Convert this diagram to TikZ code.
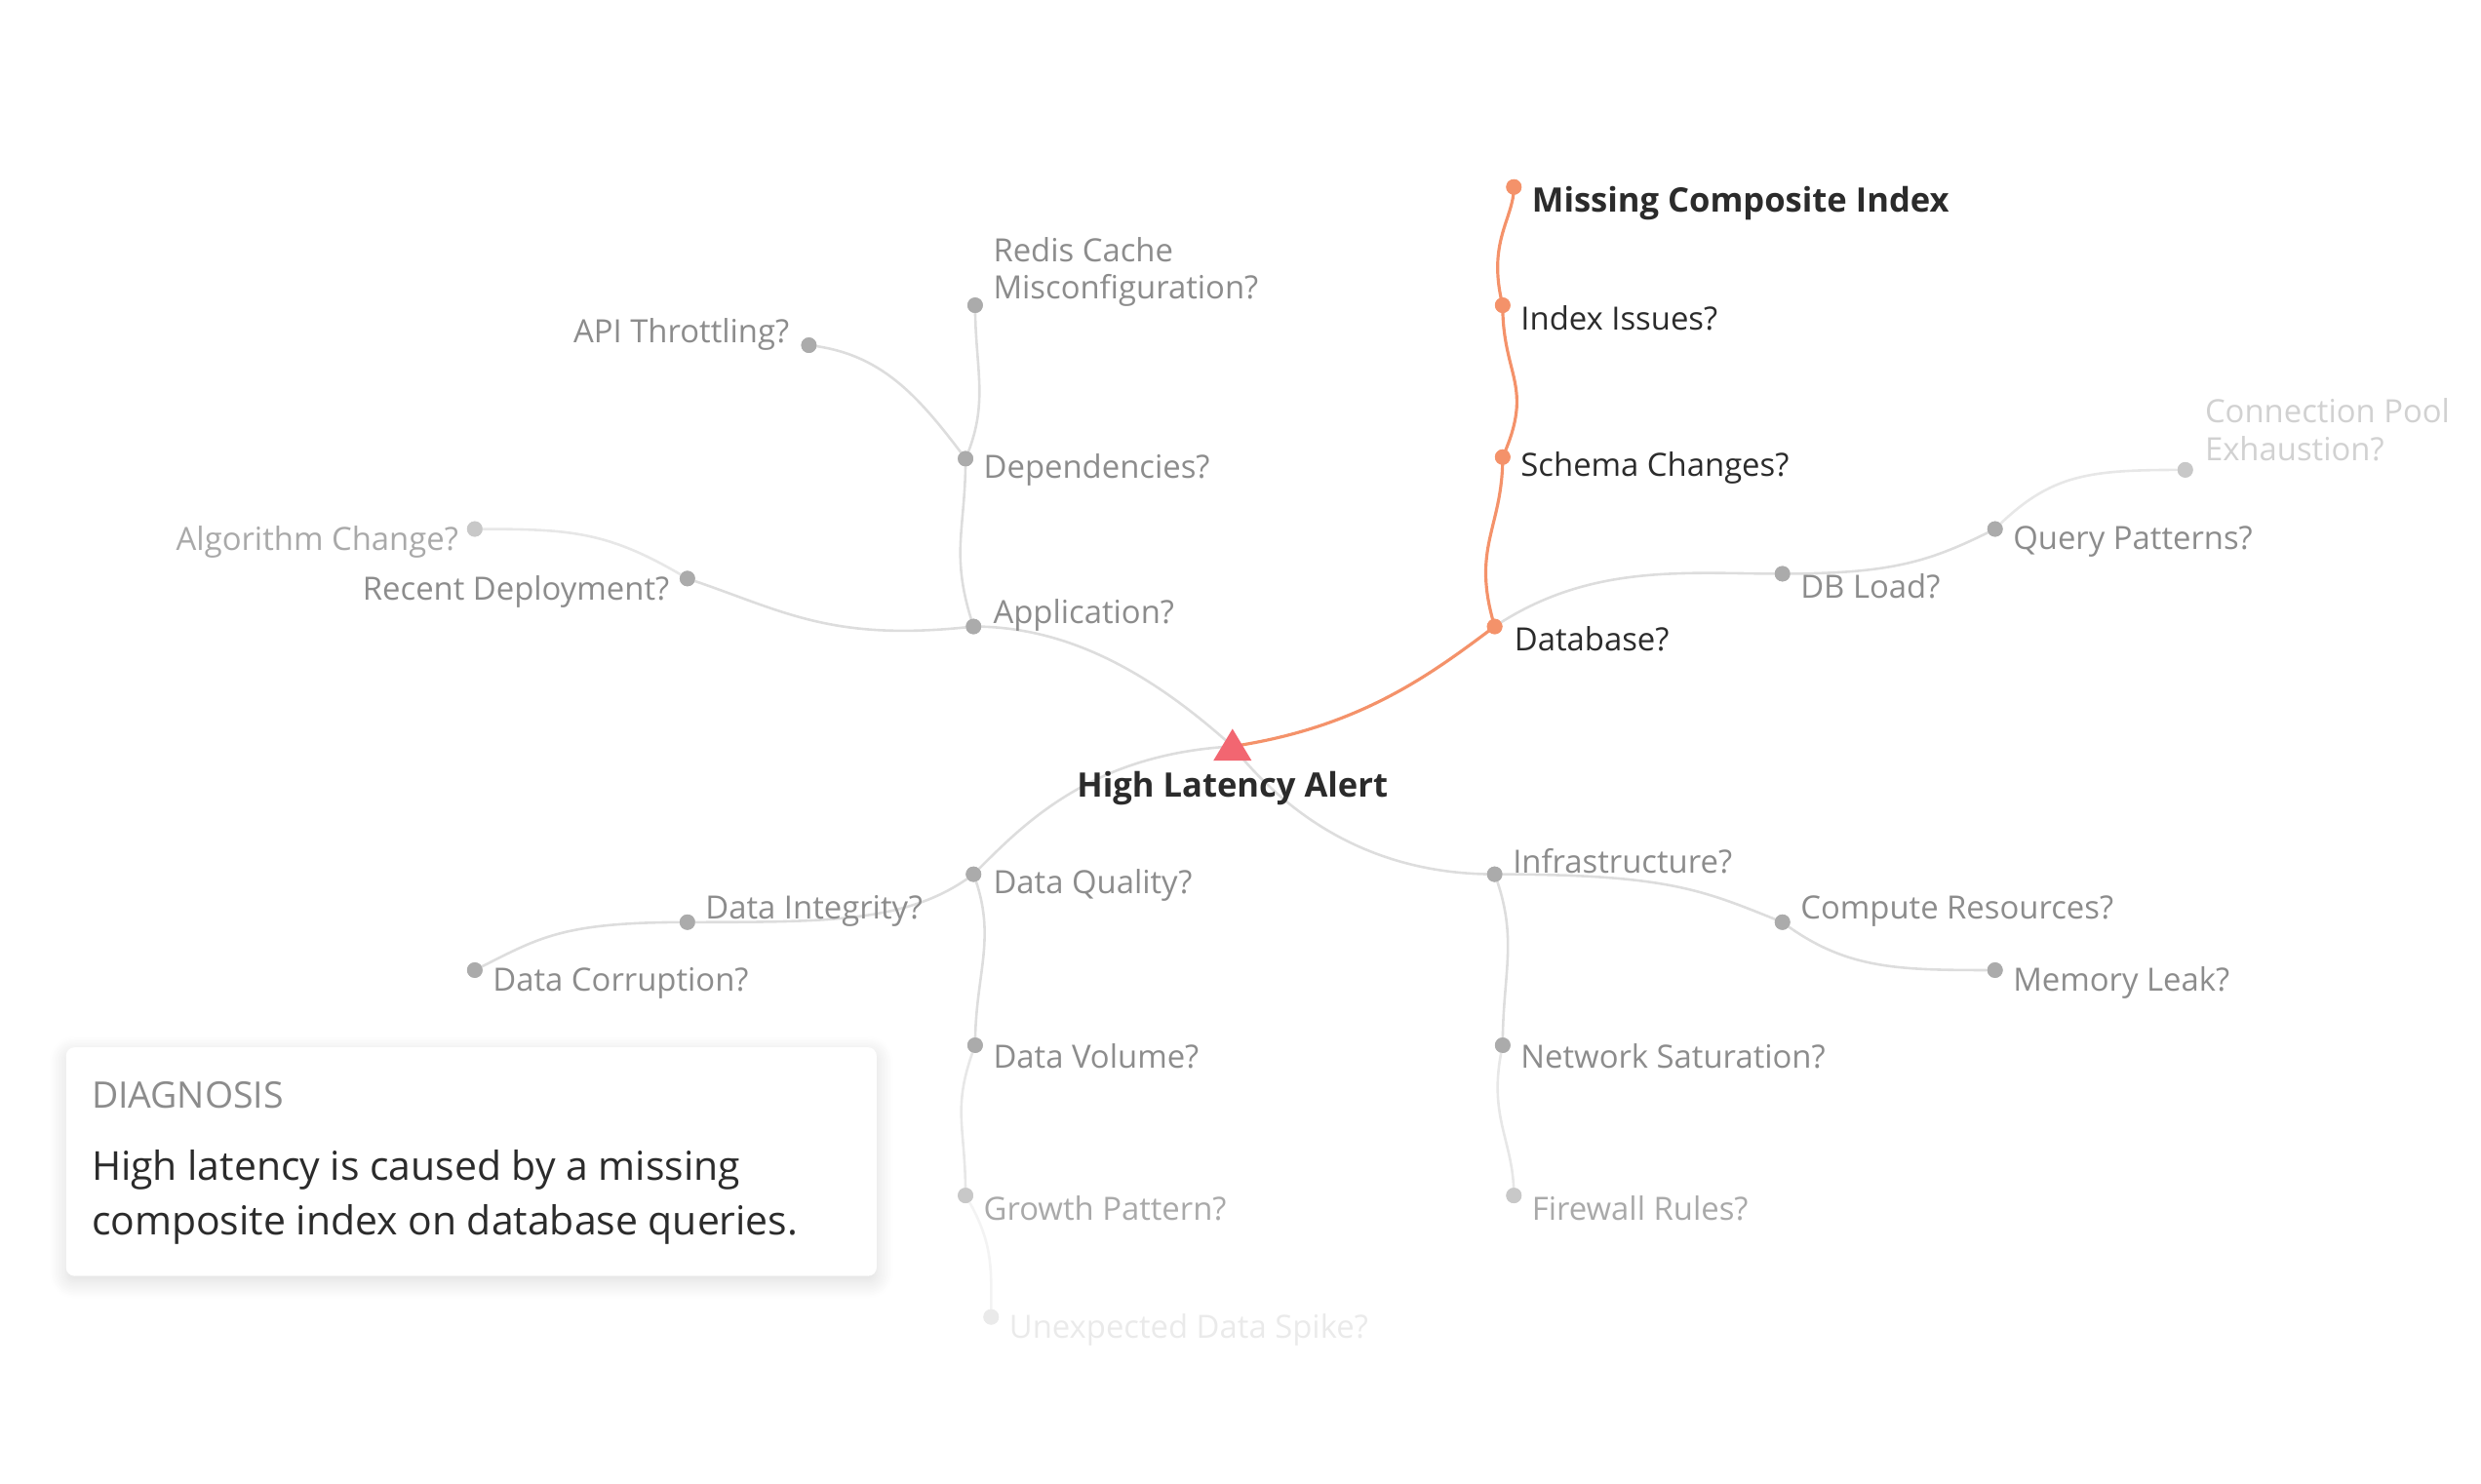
\documentclass[tikz,border=0pt]{standalone}
\usepackage{fontspec}
\setmainfont{Open Sans}
\usetikzlibrary{shadows.blur}
\definecolor{ln}{HTML}{DDDDDD}
\definecolor{dotc}{HTML}{ABABAB}
\definecolor{lab}{HTML}{8C8C8C}
\definecolor{orng}{HTML}{F4926A}
\definecolor{tri}{HTML}{F26671}
\definecolor{dark}{HTML}{2B2B2B}
\tikzset{
 dot/.style={circle,fill=dotc,inner sep=0pt,minimum size=5.5pt},
 odot/.style={dot,fill=orng},
 fdot/.style={dot,fill=dotc!65},
 ffdot/.style={dot,fill=dotc!25},
 lbl/.style={font=\fontsize{11.4}{13.5}\selectfont,text=lab,inner sep=0pt},
 flbl/.style={lbl,text=lab!75},
 fflbl/.style={lbl,text=lab!40},
 olbl/.style={lbl,text=dark},
 edge/.style={draw=ln,line width=0.9pt},
 fedge/.style={draw=ln!70,line width=0.9pt},
 oedge/.style={draw=orng,line width=1.1pt},
}
\begin{document}
\begin{tikzpicture}[x=0.02cm,y=-0.02cm]
\useasboundingbox (0,0) rectangle (1552,928);
\coordinate (root) at (771,467);
\node[dot] (app) at (609,392) {};
\node[dot] (dep) at (604,287) {};
\node[dot] (redis) at (610,191) {};
\node[dot] (api) at (506,216) {};
\node[dot] (rec) at (430,362) {};
\node[fdot] (alg) at (297,331) {};
\node[odot] (db) at (935,392) {};
\node[odot] (sch) at (940,286) {};
\node[odot] (idx) at (940,191) {};
\node[odot] (mci) at (947,117) {};
\node[dot] (dbl) at (1115,359) {};
\node[dot] (qp) at (1248,331) {};
\node[fdot] (cp) at (1367,294) {};
\node[dot] (inf) at (935,547) {};
\node[dot] (cmp) at (1115,577) {};
\node[dot] (mem) at (1248,607) {};
\node[dot] (net) at (940,654) {};
\node[fdot] (fw) at (947,748) {};
\node[dot] (dq) at (609,547) {};
\node[dot] (di) at (430,577) {};
\node[dot] (dc) at (297,607) {};
\node[dot] (dv) at (610,654) {};
\node[fdot] (gp) at (604,748) {};
\node[ffdot] (sp) at (620,824) {};
\draw[edge] (root) .. controls +(-50,-45) and +(60,0) .. (app.center);
\draw[oedge] (root) .. controls +(80,-12) and +(-40,30) .. (db.center);
\draw[edge] (root) .. controls +(40,50) and +(-70,0) .. (inf.center);
\draw[edge] (root) .. controls +(-90,5) and +(30,-30) .. (dq.center);
\draw[edge] (app.center) .. controls +(-15,-45) and +(0,45) .. (dep.center);
\draw[edge] (dep.center) .. controls +(15,-35) and +(0,40) .. (redis.center);
\draw[edge] (api.center) .. controls +(45,5) and +(-30,-40) .. (dep.center);
\draw[edge] (app.center) .. controls +(-90,10) and +(60,20) .. (rec.center);
\draw[fedge] (rec.center) .. controls +(-50,-30) and +(60,0) .. (alg.center);
\draw[edge] (db.center) .. controls +(60,-40) and +(-60,0) .. (dbl.center);
\draw[edge] (dbl.center) .. controls +(70,0) and +(-40,20) .. (qp.center);
\draw[fedge] (qp.center) .. controls +(35,-35) and +(-60,0) .. (cp.center);
\draw[oedge] (db.center) .. controls +(-15,-50) and +(0,45) .. (sch.center);
\draw[oedge] (sch.center) .. controls +(20,-45) and +(0,45) .. (idx.center);
\draw[oedge] (idx.center) .. controls +(-10,-40) and +(0,20) .. (mci.center);
\draw[edge] (inf.center) .. controls +(110,0) and +(-50,-20) .. (cmp.center);
\draw[edge] (cmp.center) .. controls +(40,30) and +(-60,0) .. (mem.center);
\draw[edge] (inf.center) .. controls +(15,40) and +(0,-45) .. (net.center);
\draw[fedge] (net.center) .. controls +(-10,45) and +(0,-35) .. (fw.center);
\draw[edge] (dq.center) .. controls +(-40,30) and +(90,0) .. (di.center);
\draw[edge] (di.center) .. controls +(-80,0) and +(40,-20) .. (dc.center);
\draw[edge] (dq.center) .. controls +(15,40) and +(0,-45) .. (dv.center);
\draw[fedge] (dv.center) .. controls +(-15,40) and +(0,-45) .. (gp.center);
\draw[draw=ln!35,line width=0.9pt] (gp.center) .. controls +(18,30) and +(0,-30) .. (sp.center);
\foreach \n/\s in {app/dot,dep/dot,redis/dot,api/dot,rec/dot,alg/fdot,db/odot,sch/odot,idx/odot,mci/odot,dbl/dot,qp/dot,cp/fdot,inf/dot,cmp/dot,mem/dot,net/dot,fw/fdot,dq/dot,di/dot,dc/dot,dv/dot,gp/fdot,sp/ffdot}
  \node[\s] at (\n) {};
\fill[tri] (771,456) -- (783,476) -- (759,476) -- cycle;
\node[olbl,font=\fontsize{12}{14}\selectfont\bfseries] (rootl) at (771,493) {High Latency Alert};
\node[lbl,anchor=west] (appl) at (621,385) {Application?};
\node[lbl,anchor=west] (depl) at (615,294) {Dependencies?};
\node[lbl,anchor=north west,align=left] (redisl) at (621,148) {Redis Cache\\Misconfiguration?};
\node[lbl,anchor=east] (apil) at (494,209) {API Throttling?};
\node[lbl,anchor=east] (recl) at (419,370) {Recent Deployment?};
\node[flbl,anchor=east] (algl) at (287,339) {Algorithm Change?};
\node[olbl,anchor=west] (dbll) at (947,400) {Database?};
\node[olbl,anchor=west] (schl) at (951,293) {Schema Changes?};
\node[olbl,anchor=west] (idxl) at (951,199) {Index Issues?};
\node[olbl,anchor=west,font=\fontsize{12}{14}\selectfont\bfseries] (mcil) at (958,127) {Missing Composite Index};
\node[lbl,anchor=west] (dblbl) at (1126,367) {DB Load?};
\node[lbl,anchor=west] (qpl) at (1259,339) {Query Patterns?};
\node[fflbl,anchor=north west,align=left] (cpl) at (1379,249) {Connection Pool\\Exhaustion?};
\node[lbl,anchor=west] (infl) at (946,539) {Infrastructure?};
\node[lbl,anchor=west] (cmpl) at (1126,570) {Compute Resources?};
\node[lbl,anchor=west] (meml) at (1259,615) {Memory Leak?};
\node[lbl,anchor=west] (netl) at (951,661) {Network Saturation?};
\node[flbl,anchor=west] (fwl) at (958,756) {Firewall Rules?};
\node[lbl,anchor=west] (dql) at (621,554) {Data Quality?};
\node[lbl,anchor=west] (dil) at (441,570) {Data Integrity?};
\node[lbl,anchor=west] (dcl) at (308,615) {Data Corruption?};
\node[lbl,anchor=west] (dvl) at (621,661) {Data Volume?};
\node[flbl,anchor=west] (gpl) at (615,756) {Growth Pattern?};
\node[lbl,text=lab!18,anchor=west] (spl) at (631,832) {Unexpected Data Spike?};
\node[fill=white,rounded corners=3pt,blur shadow={shadow blur steps=12,shadow blur radius=6pt,shadow xshift=0pt,shadow yshift=-2pt,shadow opacity=14},minimum width=507*0.02cm,minimum height=143*0.02cm,anchor=north west,inner sep=0pt] (box) at (41,655) {};
\node[anchor=west,inner sep=0pt,font=\fontsize{13}{15}\selectfont,text=lab] (diag) at (57,685) {DIAGNOSIS};
\node[anchor=north west,inner sep=0pt,align=left,text=dark,font=\fontsize{14.2}{19.6}\selectfont] (diagt) at (57,719) {High latency is caused by a missing\\composite index on database queries.};
\end{tikzpicture}
\end{document}
